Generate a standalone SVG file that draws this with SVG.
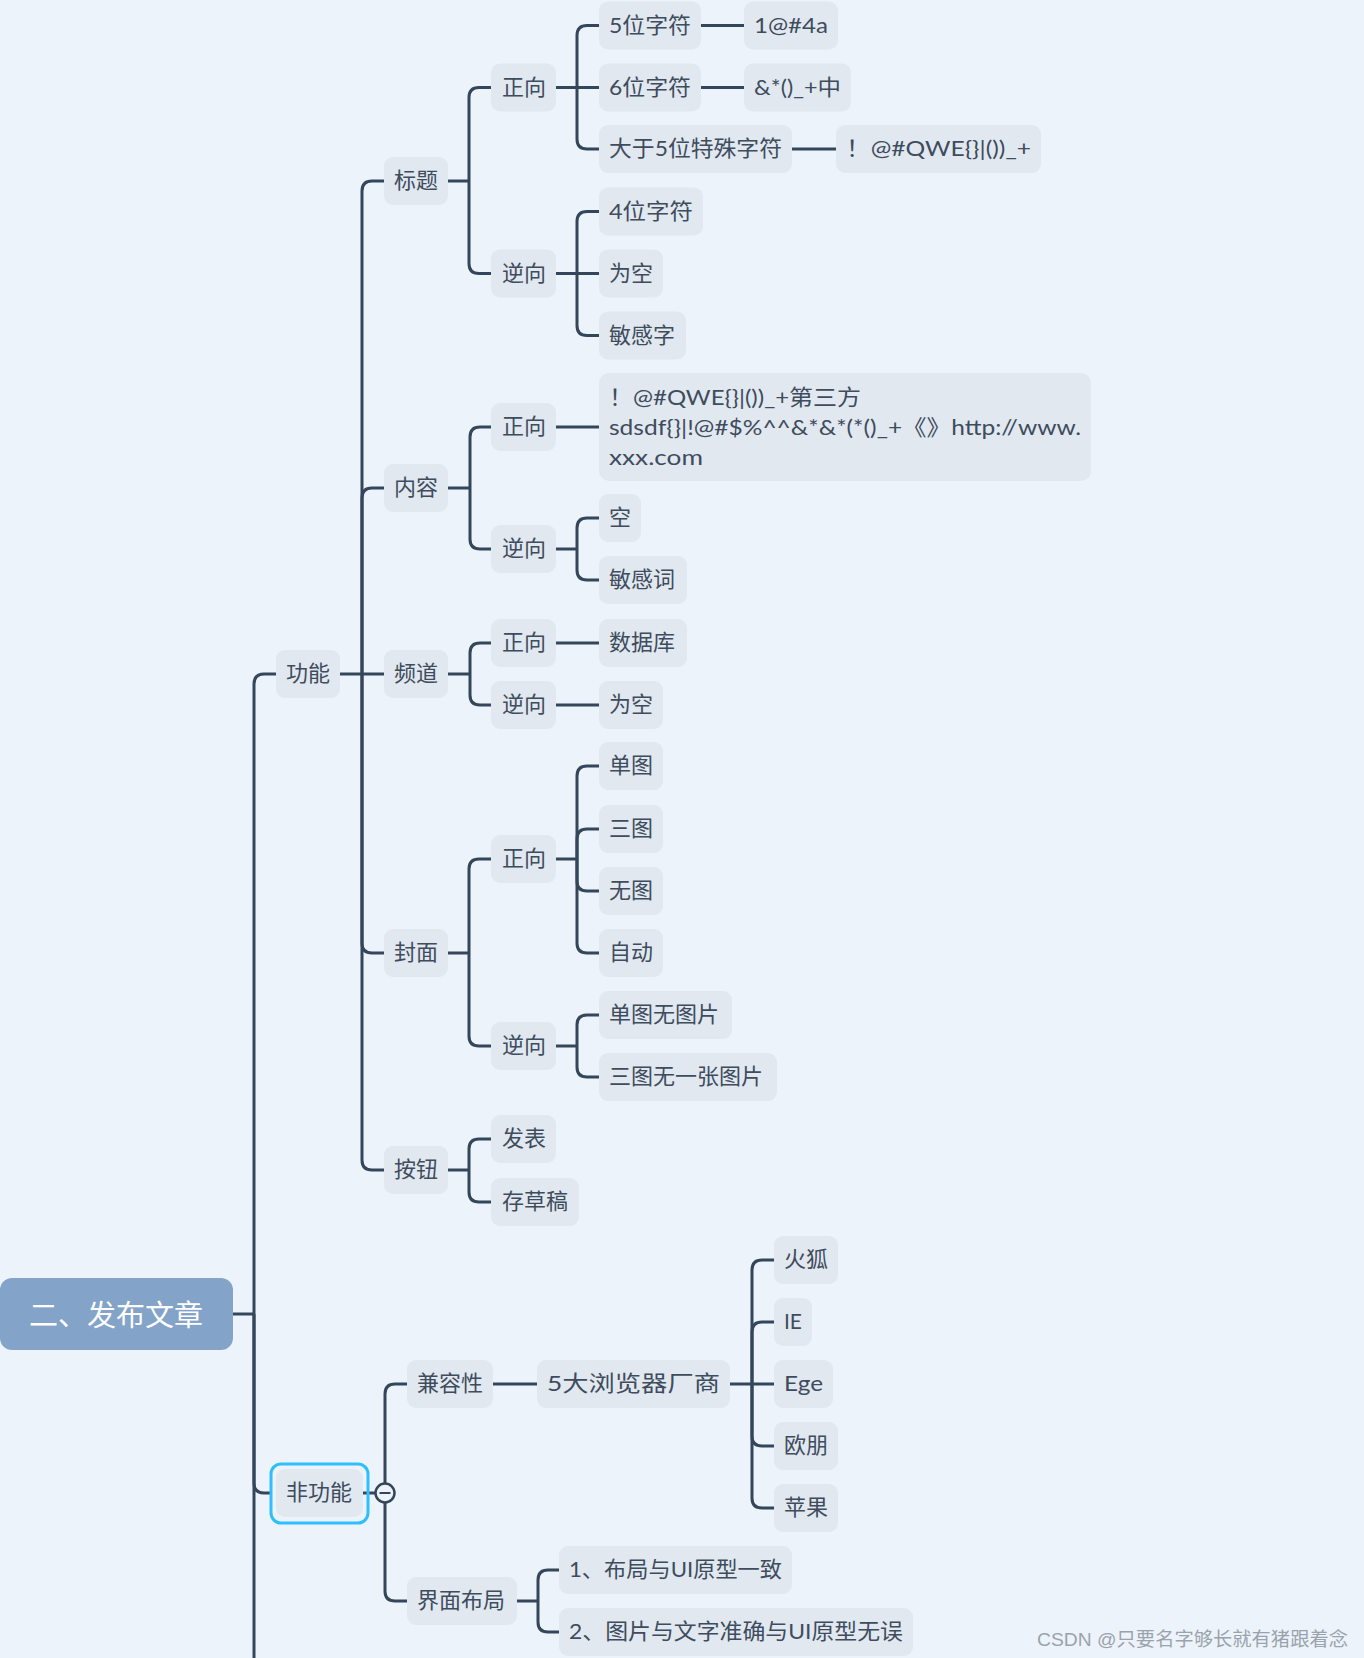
<svg xmlns="http://www.w3.org/2000/svg" width="1364" height="1658" viewBox="0 0 1364 1658">
<style>
.n rect{fill:#e1e8f0}
.t{font-family:Lato,"Noto Sans CJK SC","Noto Sans",sans-serif;font-size:22px;fill:#3e4c5e;dominant-baseline:central;transform:translateY(-1.5px)}
.c path{stroke:#34465b;stroke-width:3;fill:none}
.root text{font-family:"Noto Sans CJK SC","Noto Sans",sans-serif;font-size:29px;fill:#ffffff;dominant-baseline:central;text-anchor:middle}
</style>
<rect x="0" y="0" width="1364" height="1658" fill="#edf3fa"/>
<g class="c" id="connectors">
<path d="M233,1314 H254"/>
<path d="M254,1314 V684 Q254,674 264,674 H276"/>
<path d="M254,1314 V1483 Q254,1493 264,1493 H271"/>
<path d="M254,1314 V1658"/>
<path d="M340,674 H384"/>
<path d="M362,674 V191 Q362,181 372,181 H384"/>
<path d="M362,674 V498 Q362,488 372,488 H384"/>
<path d="M362,674 V943 Q362,953 372,953 H384"/>
<path d="M362,674 V1160 Q362,1170 372,1170 H384"/>
<path d="M448,181 H469"/>
<path d="M469,181 V97.5 Q469,87.5 479,87.5 H491"/>
<path d="M469,181 V263.5 Q469,273.5 479,273.5 H491"/>
<path d="M556,87.5 H599"/>
<path d="M577,87.5 V35.5 Q577,25.5 587,25.5 H599"/>
<path d="M577,87.5 V139 Q577,149 587,149 H599"/>
<path d="M701,25.5 H744"/>
<path d="M701,87.5 H744"/>
<path d="M792,149 H836"/>
<path d="M556,273.5 H599"/>
<path d="M577,273.5 V221.5 Q577,211.5 587,211.5 H599"/>
<path d="M577,273.5 V325.5 Q577,335.5 587,335.5 H599"/>
<path d="M448,488 H470"/>
<path d="M470,488 V437 Q470,427 480,427 H491"/>
<path d="M470,488 V539 Q470,549 480,549 H491"/>
<path d="M556,427 H599"/>
<path d="M556,549 H577"/>
<path d="M577,549 V528 Q577,518 587,518 H599"/>
<path d="M577,549 V570 Q577,580 587,580 H599"/>
<path d="M448,674 H470"/>
<path d="M470,674 V653 Q470,643 480,643 H491"/>
<path d="M470,674 V695 Q470,705 480,705 H491"/>
<path d="M556,643 H599"/>
<path d="M556,705 H599"/>
<path d="M448,953 H469"/>
<path d="M469,953 V869 Q469,859 479,859 H491"/>
<path d="M469,953 V1036 Q469,1046 479,1046 H491"/>
<path d="M556,859 H577"/>
<path d="M577,859 V776 Q577,766 587,766 H599"/>
<path d="M577,859 V839 Q577,829 587,829 H599"/>
<path d="M577,859 V881 Q577,891 587,891 H599"/>
<path d="M577,859 V943 Q577,953 587,953 H599"/>
<path d="M556,1046 H577"/>
<path d="M577,1046 V1025 Q577,1015 587,1015 H599"/>
<path d="M577,1046 V1067 Q577,1077 587,1077 H599"/>
<path d="M448,1170 H469"/>
<path d="M469,1170 V1149 Q469,1139 479,1139 H491"/>
<path d="M469,1170 V1192 Q469,1202 479,1202 H491"/>
<path d="M363,1493 H376"/>
<path d="M385,1493 V1394 Q385,1384 395,1384 H407"/>
<path d="M385,1493 V1591 Q385,1601 395,1601 H407"/>
<path d="M493,1384 H537"/>
<path d="M730,1384 H774"/>
<path d="M752,1384 V1270 Q752,1260 762,1260 H774"/>
<path d="M752,1384 V1332 Q752,1322 762,1322 H774"/>
<path d="M752,1384 V1436 Q752,1446 762,1446 H774"/>
<path d="M752,1384 V1498 Q752,1508 762,1508 H774"/>
<path d="M517,1601 H538"/>
<path d="M538,1601 V1580 Q538,1570 548,1570 H559"/>
<path d="M538,1601 V1622 Q538,1632 548,1632 H559"/>
</g>
<g id="collapse"><circle cx="385" cy="1493" r="9.5" fill="#edf3fa" stroke="#34465b" stroke-width="2.5"/><path d="M379.5,1493 H390.5" stroke="#34465b" stroke-width="2"/></g>

<g class="root" id="n-root"><rect x="0" y="1278" width="233" height="72" rx="12" fill="#84a3c8"/><text x="116" y="1313">二、发布文章</text></g>

<g class="n" id="n-gn"><rect x="276" y="650" width="64" height="48" rx="9"/><text class="t" x="286" y="674">功能</text></g>
<g class="n" id="n-fgn"><rect x="271" y="1464" width="97" height="59" rx="10" fill="none" style="fill:none" stroke="#2ebfff" stroke-width="3"/><rect x="276" y="1469" width="87" height="48" rx="9"/><text class="t" x="286" y="1493">非功能</text></g>

<g class="n" id="n-bt"><rect x="384" y="157" width="64" height="48" rx="9"/><text class="t" x="394" y="181">标题</text></g>
<g class="n" id="n-nr"><rect x="384" y="464" width="64" height="48" rx="9"/><text class="t" x="394" y="488">内容</text></g>
<g class="n" id="n-pd"><rect x="384" y="650" width="64" height="48" rx="9"/><text class="t" x="394" y="674">频道</text></g>
<g class="n" id="n-fm"><rect x="384" y="929" width="64" height="48" rx="9"/><text class="t" x="394" y="953">封面</text></g>
<g class="n" id="n-an"><rect x="384" y="1146" width="64" height="48" rx="9"/><text class="t" x="394" y="1170">按钮</text></g>
<g class="n" id="n-jrx"><rect x="407" y="1360" width="86" height="48" rx="9"/><text class="t" x="417" y="1384">兼容性</text></g>
<g class="n" id="n-jmbj"><rect x="407" y="1577" width="110" height="48" rx="9"/><text class="t" x="417" y="1601">界面布局</text></g>

<g class="n" id="n-bt-zx"><rect x="491" y="63.5" width="65" height="48" rx="9"/><text class="t" x="502" y="87.5">正向</text></g>
<g class="n" id="n-bt-nx"><rect x="491" y="249.5" width="65" height="48" rx="9"/><text class="t" x="502" y="273.5">逆向</text></g>
<g class="n" id="n-nr-zx"><rect x="491" y="403" width="65" height="48" rx="9"/><text class="t" x="502" y="427">正向</text></g>
<g class="n" id="n-nr-nx"><rect x="491" y="525" width="65" height="48" rx="9"/><text class="t" x="502" y="549">逆向</text></g>
<g class="n" id="n-pd-zx"><rect x="491" y="619" width="65" height="48" rx="9"/><text class="t" x="502" y="643">正向</text></g>
<g class="n" id="n-pd-nx"><rect x="491" y="681" width="65" height="48" rx="9"/><text class="t" x="502" y="705">逆向</text></g>
<g class="n" id="n-fm-zx"><rect x="491" y="835" width="65" height="48" rx="9"/><text class="t" x="502" y="859">正向</text></g>
<g class="n" id="n-fm-nx"><rect x="491" y="1022" width="65" height="48" rx="9"/><text class="t" x="502" y="1046">逆向</text></g>
<g class="n" id="n-fb"><rect x="491" y="1115" width="65" height="48" rx="9"/><text class="t" x="502" y="1139">发表</text></g>
<g class="n" id="n-ccg"><rect x="491" y="1178" width="88" height="48" rx="9"/><text class="t" x="502" y="1202">存草稿</text></g>
<g class="n" id="n-llq"><rect x="537" y="1360" width="193" height="48" rx="9"/><text class="t" x="547" y="1384" textLength="173" lengthAdjust="spacingAndGlyphs">5大浏览器厂商</text></g>
<g class="n" id="n-bj1"><rect x="559" y="1546" width="233" height="48" rx="9"/><text class="t" x="569" y="1570" textLength="213" lengthAdjust="spacingAndGlyphs">1、布局与UI原型一致</text></g>
<g class="n" id="n-bj2"><rect x="559" y="1608" width="354" height="48" rx="9"/><text class="t" x="569" y="1632" textLength="334" lengthAdjust="spacingAndGlyphs">2、图片与文字准确与UI原型无误</text></g>

<g class="n" id="n-5w"><rect x="599" y="1.5" width="102" height="48" rx="9"/><text class="t" x="609" y="25.5" textLength="82" lengthAdjust="spacingAndGlyphs">5位字符</text></g>
<g class="n" id="n-6w"><rect x="599" y="63.5" width="102" height="48" rx="9"/><text class="t" x="609" y="87.5" textLength="82" lengthAdjust="spacingAndGlyphs">6位字符</text></g>
<g class="n" id="n-dy5"><rect x="599" y="125" width="193" height="48" rx="9"/><text class="t" x="609" y="149" textLength="173" lengthAdjust="spacingAndGlyphs">大于5位特殊字符</text></g>
<g class="n" id="n-4w"><rect x="599" y="187.5" width="104" height="48" rx="9"/><text class="t" x="609" y="211.5" textLength="84" lengthAdjust="spacingAndGlyphs">4位字符</text></g>
<g class="n" id="n-wk1"><rect x="599" y="249.5" width="64" height="48" rx="9"/><text class="t" x="609" y="273.5">为空</text></g>
<g class="n" id="n-mgz"><rect x="599" y="311.5" width="87" height="48" rx="9"/><text class="t" x="609" y="335.5">敏感字</text></g>
<g class="n" id="n-long"><rect x="599" y="373" width="492" height="108" rx="10"/>
<text class="t" x="609" y="398" textLength="252" lengthAdjust="spacingAndGlyphs">！@#QWE{}|())_+第三方</text>
<text class="t" x="609" y="428" textLength="472" lengthAdjust="spacingAndGlyphs">sdsdf{}|!@#$%^^&amp;*&amp;*(*()_+《》http://www.</text>
<text class="t" x="609" y="458" textLength="94" lengthAdjust="spacingAndGlyphs">xxx.com</text></g>
<g class="n" id="n-k"><rect x="599" y="494" width="42" height="48" rx="9"/><text class="t" x="609" y="518">空</text></g>
<g class="n" id="n-mgc"><rect x="599" y="556" width="88" height="48" rx="9"/><text class="t" x="609" y="580">敏感词</text></g>
<g class="n" id="n-sjk"><rect x="599" y="619" width="88" height="48" rx="9"/><text class="t" x="609" y="643">数据库</text></g>
<g class="n" id="n-wk2"><rect x="599" y="681" width="64" height="48" rx="9"/><text class="t" x="609" y="705">为空</text></g>
<g class="n" id="n-dt"><rect x="599" y="742" width="64" height="48" rx="9"/><text class="t" x="609" y="766">单图</text></g>
<g class="n" id="n-st"><rect x="599" y="805" width="64" height="48" rx="9"/><text class="t" x="609" y="829">三图</text></g>
<g class="n" id="n-wt"><rect x="599" y="867" width="64" height="48" rx="9"/><text class="t" x="609" y="891">无图</text></g>
<g class="n" id="n-zd"><rect x="599" y="929" width="64" height="48" rx="9"/><text class="t" x="609" y="953">自动</text></g>
<g class="n" id="n-dtwtp"><rect x="599" y="991" width="133" height="48" rx="9"/><text class="t" x="609" y="1015">单图无图片</text></g>
<g class="n" id="n-stwyz"><rect x="599" y="1053" width="178" height="48" rx="9"/><text class="t" x="609" y="1077">三图无一张图片</text></g>
<g class="n" id="n-hh"><rect x="774" y="1236" width="64" height="48" rx="9"/><text class="t" x="784" y="1260">火狐</text></g>
<g class="n" id="n-ie"><rect x="774" y="1298" width="38" height="48" rx="9"/><text class="t" x="784" y="1322" textLength="18" lengthAdjust="spacingAndGlyphs">IE</text></g>
<g class="n" id="n-ege"><rect x="774" y="1360" width="59" height="48" rx="9"/><text class="t" x="784" y="1384" textLength="39" lengthAdjust="spacingAndGlyphs">Ege</text></g>
<g class="n" id="n-op"><rect x="774" y="1422" width="64" height="48" rx="9"/><text class="t" x="784" y="1446">欧朋</text></g>
<g class="n" id="n-pg"><rect x="774" y="1484" width="64" height="48" rx="9"/><text class="t" x="784" y="1508">苹果</text></g>

<g class="n" id="n-1a"><rect x="744" y="1.5" width="94" height="48" rx="9"/><text class="t" x="754" y="25.5" textLength="74" lengthAdjust="spacingAndGlyphs">1@#4a</text></g>
<g class="n" id="n-amp"><rect x="744" y="63.5" width="107" height="48" rx="9"/><text class="t" x="754" y="87.5" textLength="87" lengthAdjust="spacingAndGlyphs">&amp;*()_+中</text></g>
<g class="n" id="n-qwe"><rect x="836" y="125" width="205" height="48" rx="9"/><text class="t" x="846" y="149" textLength="185" lengthAdjust="spacingAndGlyphs">！@#QWE{}|())_+</text></g>

<text x="1037" y="1639" font-family="'Liberation Sans','Noto Sans CJK SC',sans-serif" font-size="19" fill="#9aa3ad" dominant-baseline="central" textLength="311" lengthAdjust="spacingAndGlyphs">CSDN @只要名字够长就有猪跟着念</text>
</svg>
